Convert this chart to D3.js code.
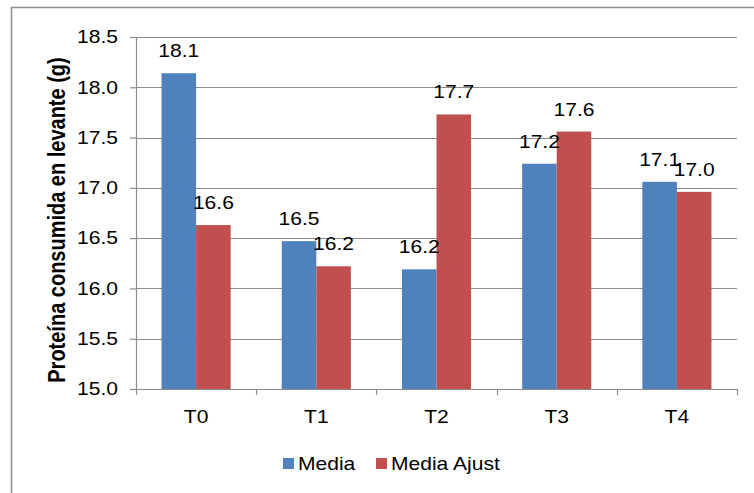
<!DOCTYPE html>
<html>
<head>
<meta charset="utf-8">
<script src="https://cdn.jsdelivr.net/npm/d3@7/dist/d3.min.js"></script>
<style>
  html, body { margin: 0; padding: 0; background: #fff; }
  svg { display: block; font-family: "Liberation Sans", Arial, sans-serif; }
</style>
</head>
<body>
<svg id="chart" width="754" height="493"></svg>
<script>
// Protein consumed during the grower phase, by treatment
const categories = ["T0", "T1", "T2", "T3", "T4"];
const seriesNames = ["Media", "Media Ajust"];
const media = [18.14, 16.47, 16.19, 17.24, 17.06];
const mediaAjust = [16.63, 16.22, 17.73, 17.56, 16.96];
const yTicks = [15.0, 15.5, 16.0, 16.5, 17.0, 17.5, 18.0, 18.5];
const colors = ["#4f81bd", "#c0504d"];
const yTitle = "Proteína consumida en levante (g)";

const series = [media, mediaAjust];
const FONT = "Liberation Sans, Arial, sans-serif";
const STRETCH = 1.17; // glyphs are drawn a little wider than tall

// widen a text horizontally around its own anchor point
function stretch(sel) {
  sel.each(function () {
    const x0 = +(this.getAttribute("x") || 0);
    this.setAttribute("transform",
      `translate(${x0},0) scale(${STRETCH},1) translate(${-x0},0)`);
  });
}

const svg = d3.select("#chart");
const margin = { left: 136, top: 37, right: 754 - 737, bottom: 493 - 389 };
const width = 754 - margin.left - margin.right;
const height = 493 - margin.top - margin.bottom;

// outer chart frame
svg.append("rect")
  .attr("x", 11.5).attr("y", 7.5)
  .attr("width", 760).attr("height", 500)
  .attr("fill", "none").attr("stroke", "#8c8c8c").attr("stroke-width", 1.5);

const g = svg.append("g").attr("transform", `translate(${margin.left},${margin.top})`);

const x = d3.scaleBand().domain(categories).range([0, width]).paddingInner(0).paddingOuter(0);
const xInner = d3.scaleBand().domain(d3.range(series.length))
  .range([x.bandwidth() * 0.2125, x.bandwidth() * 0.7875]);
const y = d3.scaleLinear().domain([15, 18.5]).range([height, 0]);

// horizontal gridlines
g.append("g").selectAll("line").data(yTicks.slice(1)).join("line")
  .attr("x1", 0).attr("x2", width)
  .attr("y1", d => Math.round(y(d)) + 0.5).attr("y2", d => Math.round(y(d)) + 0.5)
  .attr("stroke", "#8c8c8c").attr("stroke-width", 1.2);

// y axis
const yAxis = g.append("g").call(
  d3.axisLeft(y).tickValues(yTicks).tickFormat(d3.format(".1f")).tickSize(6).tickPadding(12)
);
yAxis.select(".domain").attr("stroke", "#8c8c8c").attr("stroke-width", 1.2);
yAxis.selectAll(".tick line").attr("stroke", "#8c8c8c").attr("stroke-width", 1.2);
yAxis.selectAll(".tick text").attr("font-size", 18).attr("fill", "#000")
  .attr("font-family", FONT).call(stretch);

// bars
const groups = g.append("g").selectAll("g").data(series).join("g")
  .attr("fill", (d, i) => colors[i]);
groups.selectAll("rect").data((d, i) => d.map((v, j) => ({ v, j, i }))).join("rect")
  .attr("x", d => x(categories[d.j]) + xInner(d.i))
  .attr("width", xInner.bandwidth())
  .attr("y", d => y(d.v))
  .attr("height", d => y(15) - y(d.v));

// value labels
g.append("g").selectAll("g").data(series).join("g")
  .selectAll("text").data((d, i) => d.map((v, j) => ({ v, j, i }))).join("text")
  .attr("x", d => x(categories[d.j]) + xInner(d.i) + xInner.bandwidth() / 2)
  .attr("y", d => y(d.v) - 16)
  .attr("text-anchor", "middle")
  .attr("font-size", 18).attr("fill", "#000")
  .text(d => d.v.toFixed(1))
  .call(stretch);

// x axis
const xAxis = g.append("g").attr("transform", `translate(0,${height})`)
  .call(d3.axisBottom(x).tickSize(0).tickPadding(21));
xAxis.select(".domain").attr("stroke", "#8c8c8c").attr("stroke-width", 1.2);
xAxis.selectAll(".tick text").attr("font-size", 18).attr("fill", "#000")
  .attr("font-family", FONT).call(stretch);
// category separators
xAxis.append("g").selectAll("line").data(d3.range(categories.length + 1)).join("line")
  .attr("x1", d => Math.round(d * x.step()) + 0.5).attr("x2", d => Math.round(d * x.step()) + 0.5)
  .attr("y1", 0).attr("y2", 6)
  .attr("stroke", "#8c8c8c").attr("stroke-width", 1.2);

// y axis title
svg.append("text")
  .attr("transform", `translate(65,220) scale(${STRETCH + 0.05},1) rotate(-90)`)
  .attr("text-anchor", "middle")
  .attr("font-size", 20).attr("font-weight", "bold").attr("fill", "#000")
  .text(yTitle);

// legend
const legend = svg.append("g");
const legendX = [283, 376];
seriesNames.forEach((name, i) => {
  const item = legend.append("g").attr("transform", `translate(${legendX[i]},458)`);
  item.append("rect").attr("width", 11).attr("height", 11).attr("fill", colors[i]);
  item.append("text").attr("x", 15).attr("y", 12)
    .attr("font-size", 18).attr("fill", "#000").text(name).call(stretch);
});
</script>
</body>
</html>
